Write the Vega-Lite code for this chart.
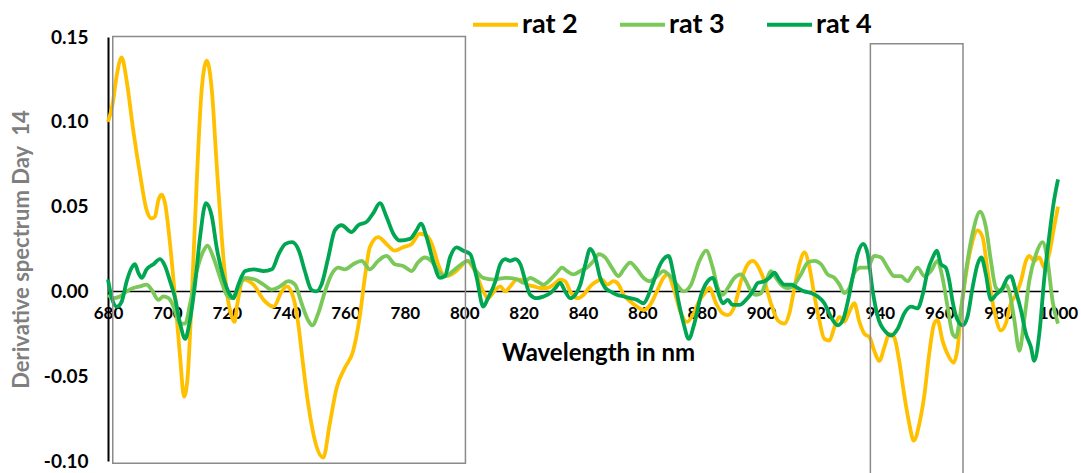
{
  "$schema": "https://vega.github.io/schema/vega-lite/v6.json",
  "width": 950,
  "height": 424,
  "autosize": {"type": "none"},
  "padding": {"left": 108, "top": 37, "right": 23, "bottom": 12},
  "background": "#ffffff",
  "config": {
    "view": {"stroke": null},
    "font": "Lato"
  },
  "datasets": {
    "boxes": [
      {"nm": 681.6, "nm2": 800.4, "v": 0.1503, "v2": -0.1013},
      {"nm": 936.8, "nm2": 968.0, "v": 0.146, "v2": -0.115}
    ],
    "spectra": [
      {"s":"rat 2","nm":680,"v":0.100},{"s":"rat 2","nm":681.5,"v":0.110},{"s":"rat 2","nm":683,"v":0.128},{"s":"rat 2","nm":684.6,"v":0.138},{"s":"rat 2","nm":686.3,"v":0.124},{"s":"rat 2","nm":688.5,"v":0.095},{"s":"rat 2","nm":690.8,"v":0.069},{"s":"rat 2","nm":693,"v":0.048},{"s":"rat 2","nm":694.7,"v":0.043},{"s":"rat 2","nm":695.8,"v":0.044},{"s":"rat 2","nm":697,"v":0.054},{"s":"rat 2","nm":698.1,"v":0.057},{"s":"rat 2","nm":699.2,"v":0.052},{"s":"rat 2","nm":700.9,"v":0.028},{"s":"rat 2","nm":702.6,"v":-0.004},{"s":"rat 2","nm":704.3,"v":-0.039},{"s":"rat 2","nm":705.6,"v":-0.062},{"s":"rat 2","nm":706.7,"v":-0.053},{"s":"rat 2","nm":708.2,"v":-0.004},{"s":"rat 2","nm":709.9,"v":0.065},{"s":"rat 2","nm":711.6,"v":0.120},{"s":"rat 2","nm":713.3,"v":0.136},{"s":"rat 2","nm":715,"v":0.118},{"s":"rat 2","nm":716.6,"v":0.075},{"s":"rat 2","nm":718.3,"v":0.032},{"s":"rat 2","nm":720,"v":0.000},{"s":"rat 2","nm":721.7,"v":-0.015},{"s":"rat 2","nm":722.6,"v":-0.018},{"s":"rat 2","nm":723.6,"v":-0.007},{"s":"rat 2","nm":725.6,"v":0.007},{"s":"rat 2","nm":729,"v":0.004},{"s":"rat 2","nm":732.4,"v":-0.005},{"s":"rat 2","nm":735.8,"v":-0.009},{"s":"rat 2","nm":738.5,"v":0.000},{"s":"rat 2","nm":740.2,"v":0.003},{"s":"rat 2","nm":742.5,"v":-0.004},{"s":"rat 2","nm":744,"v":-0.018},{"s":"rat 2","nm":745.5,"v":-0.040},{"s":"rat 2","nm":747.4,"v":-0.066},{"s":"rat 2","nm":749.7,"v":-0.088},{"s":"rat 2","nm":752.5,"v":-0.098},{"s":"rat 2","nm":754.7,"v":-0.078},{"s":"rat 2","nm":757,"v":-0.057},{"s":"rat 2","nm":759.8,"v":-0.045},{"s":"rat 2","nm":762.6,"v":-0.035},{"s":"rat 2","nm":764.8,"v":-0.015},{"s":"rat 2","nm":766.5,"v":0.008},{"s":"rat 2","nm":768.2,"v":0.026},{"s":"rat 2","nm":771,"v":0.032},{"s":"rat 2","nm":773.8,"v":0.028},{"s":"rat 2","nm":776.6,"v":0.024},{"s":"rat 2","nm":779.4,"v":0.026},{"s":"rat 2","nm":782.3,"v":0.028},{"s":"rat 2","nm":785,"v":0.034},{"s":"rat 2","nm":787.3,"v":0.033},{"s":"rat 2","nm":789.5,"v":0.026},{"s":"rat 2","nm":791.2,"v":0.016},{"s":"rat 2","nm":793.5,"v":0.009},{"s":"rat 2","nm":795.7,"v":0.010},{"s":"rat 2","nm":798.5,"v":0.014},{"s":"rat 2","nm":800.8,"v":0.018},{"s":"rat 2","nm":803.6,"v":0.012},{"s":"rat 2","nm":806.4,"v":0.000},{"s":"rat 2","nm":808,"v":-0.004},{"s":"rat 2","nm":810.5,"v":0.001},{"s":"rat 2","nm":812.1,"v":0.003},{"s":"rat 2","nm":813.8,"v":0.000},{"s":"rat 2","nm":815.5,"v":0.003},{"s":"rat 2","nm":817.8,"v":0.007},{"s":"rat 2","nm":819.4,"v":0.007},{"s":"rat 2","nm":821.1,"v":0.004},{"s":"rat 2","nm":823.4,"v":0.003},{"s":"rat 2","nm":825.6,"v":0.002},{"s":"rat 2","nm":827.9,"v":0.002},{"s":"rat 2","nm":830.1,"v":0.004},{"s":"rat 2","nm":832.3,"v":0.007},{"s":"rat 2","nm":834,"v":0.006},{"s":"rat 2","nm":835.7,"v":0.000},{"s":"rat 2","nm":838,"v":-0.004},{"s":"rat 2","nm":840.2,"v":-0.002},{"s":"rat 2","nm":842.4,"v":0.003},{"s":"rat 2","nm":844.7,"v":0.006},{"s":"rat 2","nm":846.4,"v":0.007},{"s":"rat 2","nm":848.1,"v":0.004},{"s":"rat 2","nm":850.3,"v":0.006},{"s":"rat 2","nm":852,"v":0.004},{"s":"rat 2","nm":853.7,"v":-0.002},{"s":"rat 2","nm":856,"v":-0.006},{"s":"rat 2","nm":858.2,"v":-0.009},{"s":"rat 2","nm":860.4,"v":-0.011},{"s":"rat 2","nm":862.6,"v":-0.008},{"s":"rat 2","nm":864.9,"v":0.000},{"s":"rat 2","nm":867.1,"v":0.008},{"s":"rat 2","nm":868.5,"v":0.010},{"s":"rat 2","nm":870.5,"v":0.002},{"s":"rat 2","nm":872.8,"v":-0.012},{"s":"rat 2","nm":875,"v":-0.018},{"s":"rat 2","nm":877,"v":-0.014},{"s":"rat 2","nm":879,"v":-0.006},{"s":"rat 2","nm":881,"v":-0.001},{"s":"rat 2","nm":882.6,"v":0.002},{"s":"rat 2","nm":884.8,"v":-0.007},{"s":"rat 2","nm":887.1,"v":-0.013},{"s":"rat 2","nm":888.8,"v":-0.014},{"s":"rat 2","nm":891,"v":-0.009},{"s":"rat 2","nm":893.2,"v":0.006},{"s":"rat 2","nm":895.5,"v":0.016},{"s":"rat 2","nm":897.2,"v":0.018},{"s":"rat 2","nm":898.9,"v":0.015},{"s":"rat 2","nm":901.1,"v":0.006},{"s":"rat 2","nm":903.3,"v":-0.007},{"s":"rat 2","nm":905.6,"v":-0.017},{"s":"rat 2","nm":907.8,"v":-0.019},{"s":"rat 2","nm":909.5,"v":-0.013},{"s":"rat 2","nm":911.2,"v":0.002},{"s":"rat 2","nm":912.9,"v":0.016},{"s":"rat 2","nm":914.6,"v":0.023},{"s":"rat 2","nm":916.3,"v":0.014},{"s":"rat 2","nm":917.9,"v":-0.002},{"s":"rat 2","nm":919.6,"v":-0.017},{"s":"rat 2","nm":921.3,"v":-0.028},{"s":"rat 2","nm":923,"v":-0.029},{"s":"rat 2","nm":924.7,"v":-0.021},{"s":"rat 2","nm":926.4,"v":-0.015},{"s":"rat 2","nm":928,"v":-0.018},{"s":"rat 2","nm":929.7,"v":-0.012},{"s":"rat 2","nm":931.4,"v":-0.007},{"s":"rat 2","nm":933.1,"v":-0.018},{"s":"rat 2","nm":934.8,"v":-0.025},{"s":"rat 2","nm":936.5,"v":-0.027},{"s":"rat 2","nm":938.1,"v":-0.035},{"s":"rat 2","nm":939.8,"v":-0.041},{"s":"rat 2","nm":941.5,"v":-0.033},{"s":"rat 2","nm":943.2,"v":-0.025},{"s":"rat 2","nm":944.8,"v":-0.027},{"s":"rat 2","nm":946.5,"v":-0.041},{"s":"rat 2","nm":948.2,"v":-0.061},{"s":"rat 2","nm":949.9,"v":-0.078},{"s":"rat 2","nm":951.4,"v":-0.088},{"s":"rat 2","nm":953.3,"v":-0.078},{"s":"rat 2","nm":955,"v":-0.061},{"s":"rat 2","nm":956.6,"v":-0.037},{"s":"rat 2","nm":958.3,"v":-0.019},{"s":"rat 2","nm":959.4,"v":-0.017},{"s":"rat 2","nm":961.1,"v":-0.029},{"s":"rat 2","nm":962.8,"v":-0.037},{"s":"rat 2","nm":964.8,"v":-0.042},{"s":"rat 2","nm":966.2,"v":-0.033},{"s":"rat 2","nm":967.5,"v":-0.009},{"s":"rat 2","nm":969,"v":0.010},{"s":"rat 2","nm":970.7,"v":0.026},{"s":"rat 2","nm":972.9,"v":0.036},{"s":"rat 2","nm":974.6,"v":0.032},{"s":"rat 2","nm":976.3,"v":0.012},{"s":"rat 2","nm":978.5,"v":-0.011},{"s":"rat 2","nm":980.8,"v":-0.023},{"s":"rat 2","nm":982.4,"v":-0.019},{"s":"rat 2","nm":984.1,"v":-0.007},{"s":"rat 2","nm":985.8,"v":-0.002},{"s":"rat 2","nm":987.5,"v":0.006},{"s":"rat 2","nm":989.2,"v":0.018},{"s":"rat 2","nm":990.3,"v":0.021},{"s":"rat 2","nm":992,"v":0.018},{"s":"rat 2","nm":993.7,"v":0.020},{"s":"rat 2","nm":995.4,"v":0.014},{"s":"rat 2","nm":997,"v":0.022},{"s":"rat 2","nm":998.7,"v":0.038},{"s":"rat 2","nm":1000,"v":0.050},

      {"s":"rat 3","nm":680,"v":-0.002},{"s":"rat 3","nm":681.8,"v":-0.004},{"s":"rat 3","nm":684,"v":-0.003},{"s":"rat 3","nm":686.3,"v":0.000},{"s":"rat 3","nm":688.5,"v":0.002},{"s":"rat 3","nm":690.8,"v":0.003},{"s":"rat 3","nm":693,"v":0.004},{"s":"rat 3","nm":694.7,"v":0.001},{"s":"rat 3","nm":697,"v":-0.005},{"s":"rat 3","nm":698.6,"v":-0.003},{"s":"rat 3","nm":700.4,"v":-0.004},{"s":"rat 3","nm":702.1,"v":-0.009},{"s":"rat 3","nm":704.3,"v":-0.019},{"s":"rat 3","nm":706,"v":-0.019},{"s":"rat 3","nm":707.7,"v":-0.007},{"s":"rat 3","nm":709.9,"v":0.012},{"s":"rat 3","nm":712.2,"v":0.024},{"s":"rat 3","nm":713.5,"v":0.027},{"s":"rat 3","nm":715.5,"v":0.020},{"s":"rat 3","nm":717.8,"v":0.008},{"s":"rat 3","nm":720,"v":-0.002},{"s":"rat 3","nm":721.7,"v":-0.004},{"s":"rat 3","nm":723.9,"v":0.002},{"s":"rat 3","nm":726.2,"v":0.008},{"s":"rat 3","nm":729.5,"v":0.007},{"s":"rat 3","nm":732.4,"v":0.004},{"s":"rat 3","nm":735.2,"v":0.001},{"s":"rat 3","nm":738,"v":0.003},{"s":"rat 3","nm":740.8,"v":0.006},{"s":"rat 3","nm":743,"v":0.004},{"s":"rat 3","nm":745.2,"v":-0.007},{"s":"rat 3","nm":747.4,"v":-0.017},{"s":"rat 3","nm":748.8,"v":-0.020},{"s":"rat 3","nm":750.8,"v":-0.013},{"s":"rat 3","nm":753.1,"v":0.000},{"s":"rat 3","nm":755.3,"v":0.010},{"s":"rat 3","nm":757.6,"v":0.014},{"s":"rat 3","nm":759.8,"v":0.013},{"s":"rat 3","nm":762.6,"v":0.016},{"s":"rat 3","nm":765.4,"v":0.018},{"s":"rat 3","nm":768.2,"v":0.013},{"s":"rat 3","nm":771,"v":0.018},{"s":"rat 3","nm":773.8,"v":0.021},{"s":"rat 3","nm":776.6,"v":0.016},{"s":"rat 3","nm":779.4,"v":0.015},{"s":"rat 3","nm":782.3,"v":0.012},{"s":"rat 3","nm":784.4,"v":0.017},{"s":"rat 3","nm":786.7,"v":0.020},{"s":"rat 3","nm":788.9,"v":0.018},{"s":"rat 3","nm":791.2,"v":0.012},{"s":"rat 3","nm":793.5,"v":0.009},{"s":"rat 3","nm":796.2,"v":0.012},{"s":"rat 3","nm":799,"v":0.016},{"s":"rat 3","nm":801.3,"v":0.018},{"s":"rat 3","nm":804,"v":0.012},{"s":"rat 3","nm":806.4,"v":0.008},{"s":"rat 3","nm":810,"v":0.007},{"s":"rat 3","nm":814,"v":0.008},{"s":"rat 3","nm":818,"v":0.007},{"s":"rat 3","nm":820,"v":0.005},{"s":"rat 3","nm":822.2,"v":0.008},{"s":"rat 3","nm":824.5,"v":0.006},{"s":"rat 3","nm":826.7,"v":0.004},{"s":"rat 3","nm":829,"v":0.007},{"s":"rat 3","nm":831.2,"v":0.011},{"s":"rat 3","nm":832.9,"v":0.014},{"s":"rat 3","nm":834.6,"v":0.012},{"s":"rat 3","nm":836.8,"v":0.010},{"s":"rat 3","nm":839.1,"v":0.012},{"s":"rat 3","nm":841.3,"v":0.014},{"s":"rat 3","nm":843.6,"v":0.018},{"s":"rat 3","nm":845.3,"v":0.022},{"s":"rat 3","nm":847.5,"v":0.020},{"s":"rat 3","nm":849.7,"v":0.014},{"s":"rat 3","nm":852,"v":0.009},{"s":"rat 3","nm":853.7,"v":0.013},{"s":"rat 3","nm":855.9,"v":0.017},{"s":"rat 3","nm":858.2,"v":0.013},{"s":"rat 3","nm":860.4,"v":0.008},{"s":"rat 3","nm":862.6,"v":0.006},{"s":"rat 3","nm":864.9,"v":0.009},{"s":"rat 3","nm":867.1,"v":0.012},{"s":"rat 3","nm":869.4,"v":0.009},{"s":"rat 3","nm":871.6,"v":0.004},{"s":"rat 3","nm":873.9,"v":0.000},{"s":"rat 3","nm":876.4,"v":0.004},{"s":"rat 3","nm":879.2,"v":0.018},{"s":"rat 3","nm":881.5,"v":0.024},{"s":"rat 3","nm":883.7,"v":0.014},{"s":"rat 3","nm":885.4,"v":0.002},{"s":"rat 3","nm":887.1,"v":-0.002},{"s":"rat 3","nm":888.8,"v":0.002},{"s":"rat 3","nm":891,"v":0.008},{"s":"rat 3","nm":893.2,"v":0.010},{"s":"rat 3","nm":894.9,"v":0.006},{"s":"rat 3","nm":896.6,"v":0.000},{"s":"rat 3","nm":898.3,"v":-0.002},{"s":"rat 3","nm":900,"v":-0.001},{"s":"rat 3","nm":901.7,"v":0.006},{"s":"rat 3","nm":903.3,"v":0.012},{"s":"rat 3","nm":905,"v":0.008},{"s":"rat 3","nm":906.7,"v":0.004},{"s":"rat 3","nm":909,"v":0.002},{"s":"rat 3","nm":911.2,"v":0.004},{"s":"rat 3","nm":913.4,"v":0.010},{"s":"rat 3","nm":915.7,"v":0.017},{"s":"rat 3","nm":917.9,"v":0.018},{"s":"rat 3","nm":920.2,"v":0.016},{"s":"rat 3","nm":922.4,"v":0.010},{"s":"rat 3","nm":924.7,"v":0.008},{"s":"rat 3","nm":926.4,"v":0.004},{"s":"rat 3","nm":928,"v":-0.001},{"s":"rat 3","nm":929.7,"v":0.002},{"s":"rat 3","nm":931.4,"v":0.011},{"s":"rat 3","nm":933.6,"v":0.014},{"s":"rat 3","nm":935.9,"v":0.014},{"s":"rat 3","nm":938.1,"v":0.021},{"s":"rat 3","nm":940.4,"v":0.020},{"s":"rat 3","nm":942.6,"v":0.014},{"s":"rat 3","nm":944.8,"v":0.009},{"s":"rat 3","nm":947.1,"v":0.009},{"s":"rat 3","nm":949.3,"v":0.006},{"s":"rat 3","nm":951,"v":0.010},{"s":"rat 3","nm":952.7,"v":0.014},{"s":"rat 3","nm":955,"v":0.009},{"s":"rat 3","nm":957.2,"v":0.012},{"s":"rat 3","nm":959.4,"v":0.018},{"s":"rat 3","nm":961.1,"v":0.008},{"s":"rat 3","nm":962.8,"v":-0.009},{"s":"rat 3","nm":964.5,"v":-0.025},{"s":"rat 3","nm":965.6,"v":-0.027},{"s":"rat 3","nm":967.3,"v":-0.011},{"s":"rat 3","nm":969,"v":0.012},{"s":"rat 3","nm":971.2,"v":0.034},{"s":"rat 3","nm":973.8,"v":0.047},{"s":"rat 3","nm":975.7,"v":0.038},{"s":"rat 3","nm":977.4,"v":0.018},{"s":"rat 3","nm":979.1,"v":0.002},{"s":"rat 3","nm":980.8,"v":0.000},{"s":"rat 3","nm":982.4,"v":0.004},{"s":"rat 3","nm":983.6,"v":0.000},{"s":"rat 3","nm":985.3,"v":-0.017},{"s":"rat 3","nm":987,"v":-0.035},{"s":"rat 3","nm":988.6,"v":-0.017},{"s":"rat 3","nm":990.3,"v":0.006},{"s":"rat 3","nm":992.6,"v":0.022},{"s":"rat 3","nm":994.8,"v":0.029},{"s":"rat 3","nm":996.5,"v":0.018},{"s":"rat 3","nm":998.2,"v":-0.006},{"s":"rat 3","nm":1000,"v":-0.019},

      {"s":"rat 4","nm":680,"v":0.007},{"s":"rat 4","nm":681.3,"v":-0.004},{"s":"rat 4","nm":683,"v":-0.009},{"s":"rat 4","nm":684.6,"v":-0.006},{"s":"rat 4","nm":686.3,"v":0.006},{"s":"rat 4","nm":688,"v":0.014},{"s":"rat 4","nm":689.1,"v":0.016},{"s":"rat 4","nm":690.2,"v":0.011},{"s":"rat 4","nm":691.4,"v":0.008},{"s":"rat 4","nm":693,"v":0.013},{"s":"rat 4","nm":695.3,"v":0.016},{"s":"rat 4","nm":697.5,"v":0.019},{"s":"rat 4","nm":699.2,"v":0.015},{"s":"rat 4","nm":700.9,"v":0.006},{"s":"rat 4","nm":702.6,"v":-0.004},{"s":"rat 4","nm":704.3,"v":-0.019},{"s":"rat 4","nm":706,"v":-0.028},{"s":"rat 4","nm":707.4,"v":-0.019},{"s":"rat 4","nm":709.3,"v":0.004},{"s":"rat 4","nm":711,"v":0.032},{"s":"rat 4","nm":713,"v":0.052},{"s":"rat 4","nm":715,"v":0.044},{"s":"rat 4","nm":716.6,"v":0.026},{"s":"rat 4","nm":718.9,"v":0.008},{"s":"rat 4","nm":721.1,"v":-0.002},{"s":"rat 4","nm":722.2,"v":-0.004},{"s":"rat 4","nm":723.9,"v":0.004},{"s":"rat 4","nm":726.2,"v":0.012},{"s":"rat 4","nm":729,"v":0.013},{"s":"rat 4","nm":732.4,"v":0.012},{"s":"rat 4","nm":735.2,"v":0.013},{"s":"rat 4","nm":737.5,"v":0.022},{"s":"rat 4","nm":739.8,"v":0.028},{"s":"rat 4","nm":742,"v":0.029},{"s":"rat 4","nm":744.3,"v":0.024},{"s":"rat 4","nm":746.3,"v":0.012},{"s":"rat 4","nm":748.5,"v":0.001},{"s":"rat 4","nm":750.2,"v":0.000},{"s":"rat 4","nm":751.9,"v":0.004},{"s":"rat 4","nm":754.2,"v":0.020},{"s":"rat 4","nm":756.4,"v":0.036},{"s":"rat 4","nm":758.7,"v":0.039},{"s":"rat 4","nm":762,"v":0.035},{"s":"rat 4","nm":764.3,"v":0.039},{"s":"rat 4","nm":767.1,"v":0.041},{"s":"rat 4","nm":769.3,"v":0.046},{"s":"rat 4","nm":771.6,"v":0.052},{"s":"rat 4","nm":773.8,"v":0.044},{"s":"rat 4","nm":776.1,"v":0.034},{"s":"rat 4","nm":778.3,"v":0.030},{"s":"rat 4","nm":781.7,"v":0.031},{"s":"rat 4","nm":783.9,"v":0.036},{"s":"rat 4","nm":785.4,"v":0.040},{"s":"rat 4","nm":787.3,"v":0.032},{"s":"rat 4","nm":789.5,"v":0.018},{"s":"rat 4","nm":791.8,"v":0.008},{"s":"rat 4","nm":793.5,"v":0.009},{"s":"rat 4","nm":795.2,"v":0.020},{"s":"rat 4","nm":797.4,"v":0.026},{"s":"rat 4","nm":799.7,"v":0.024},{"s":"rat 4","nm":802,"v":0.022},{"s":"rat 4","nm":804.2,"v":0.008},{"s":"rat 4","nm":806.4,"v":-0.009},{"s":"rat 4","nm":808,"v":-0.004},{"s":"rat 4","nm":810.5,"v":0.006},{"s":"rat 4","nm":812.1,"v":0.016},{"s":"rat 4","nm":813.8,"v":0.019},{"s":"rat 4","nm":815.5,"v":0.018},{"s":"rat 4","nm":817.2,"v":0.019},{"s":"rat 4","nm":818.9,"v":0.016},{"s":"rat 4","nm":820.6,"v":0.006},{"s":"rat 4","nm":822.2,"v":-0.002},{"s":"rat 4","nm":824.5,"v":-0.004},{"s":"rat 4","nm":826.7,"v":-0.003},{"s":"rat 4","nm":829,"v":-0.001},{"s":"rat 4","nm":830.7,"v":0.002},{"s":"rat 4","nm":832.3,"v":0.005},{"s":"rat 4","nm":834,"v":0.000},{"s":"rat 4","nm":835.7,"v":-0.004},{"s":"rat 4","nm":837.4,"v":-0.002},{"s":"rat 4","nm":839.1,"v":0.004},{"s":"rat 4","nm":840.8,"v":0.016},{"s":"rat 4","nm":842.4,"v":0.025},{"s":"rat 4","nm":844.1,"v":0.020},{"s":"rat 4","nm":845.8,"v":0.008},{"s":"rat 4","nm":847.5,"v":0.002},{"s":"rat 4","nm":849.2,"v":0.000},{"s":"rat 4","nm":851.4,"v":-0.002},{"s":"rat 4","nm":853.7,"v":-0.003},{"s":"rat 4","nm":855.9,"v":-0.004},{"s":"rat 4","nm":858.2,"v":-0.005},{"s":"rat 4","nm":860.4,"v":-0.007},{"s":"rat 4","nm":862.1,"v":-0.002},{"s":"rat 4","nm":863.8,"v":0.006},{"s":"rat 4","nm":865.5,"v":0.014},{"s":"rat 4","nm":867.1,"v":0.019},{"s":"rat 4","nm":868.8,"v":0.021},{"s":"rat 4","nm":870.5,"v":0.010},{"s":"rat 4","nm":872.2,"v":-0.006},{"s":"rat 4","nm":873.9,"v":-0.019},{"s":"rat 4","nm":875.6,"v":-0.028},{"s":"rat 4","nm":877.5,"v":-0.019},{"s":"rat 4","nm":879.8,"v":-0.002},{"s":"rat 4","nm":882,"v":0.006},{"s":"rat 4","nm":883.7,"v":0.008},{"s":"rat 4","nm":885.4,"v":0.000},{"s":"rat 4","nm":887.1,"v":-0.007},{"s":"rat 4","nm":888.8,"v":-0.005},{"s":"rat 4","nm":890.4,"v":-0.008},{"s":"rat 4","nm":892.7,"v":-0.008},{"s":"rat 4","nm":894.9,"v":-0.005},{"s":"rat 4","nm":897.2,"v":0.000},{"s":"rat 4","nm":898.9,"v":0.005},{"s":"rat 4","nm":901.1,"v":0.006},{"s":"rat 4","nm":902.8,"v":0.008},{"s":"rat 4","nm":904.5,"v":0.011},{"s":"rat 4","nm":906.1,"v":0.007},{"s":"rat 4","nm":907.8,"v":0.004},{"s":"rat 4","nm":910.1,"v":0.004},{"s":"rat 4","nm":912.3,"v":0.002},{"s":"rat 4","nm":914.6,"v":0.000},{"s":"rat 4","nm":916.8,"v":-0.001},{"s":"rat 4","nm":919.1,"v":-0.003},{"s":"rat 4","nm":921.3,"v":-0.007},{"s":"rat 4","nm":923.5,"v":-0.015},{"s":"rat 4","nm":925.8,"v":-0.020},{"s":"rat 4","nm":927.5,"v":-0.017},{"s":"rat 4","nm":929.2,"v":-0.006},{"s":"rat 4","nm":930.8,"v":0.008},{"s":"rat 4","nm":932.5,"v":0.022},{"s":"rat 4","nm":934.4,"v":0.028},{"s":"rat 4","nm":935.9,"v":0.022},{"s":"rat 4","nm":937.6,"v":0.000},{"s":"rat 4","nm":939.3,"v":-0.015},{"s":"rat 4","nm":942,"v":-0.024},{"s":"rat 4","nm":943.7,"v":-0.026},{"s":"rat 4","nm":946,"v":-0.022},{"s":"rat 4","nm":948.2,"v":-0.013},{"s":"rat 4","nm":950.5,"v":-0.009},{"s":"rat 4","nm":952.7,"v":-0.010},{"s":"rat 4","nm":954.4,"v":-0.002},{"s":"rat 4","nm":956.1,"v":0.012},{"s":"rat 4","nm":957.8,"v":0.020},{"s":"rat 4","nm":959.2,"v":0.024},{"s":"rat 4","nm":960.6,"v":0.016},{"s":"rat 4","nm":962.2,"v":0.014},{"s":"rat 4","nm":963.4,"v":0.006},{"s":"rat 4","nm":964.5,"v":-0.006},{"s":"rat 4","nm":966.2,"v":-0.017},{"s":"rat 4","nm":967.9,"v":-0.020},{"s":"rat 4","nm":969.5,"v":-0.015},{"s":"rat 4","nm":971.2,"v":0.002},{"s":"rat 4","nm":972.9,"v":0.016},{"s":"rat 4","nm":974.2,"v":0.020},{"s":"rat 4","nm":975.7,"v":0.010},{"s":"rat 4","nm":977.4,"v":-0.005},{"s":"rat 4","nm":979.1,"v":-0.002},{"s":"rat 4","nm":981.3,"v":0.002},{"s":"rat 4","nm":983,"v":0.008},{"s":"rat 4","nm":984.1,"v":0.009},{"s":"rat 4","nm":985.8,"v":0.000},{"s":"rat 4","nm":987.5,"v":-0.011},{"s":"rat 4","nm":989.2,"v":-0.025},{"s":"rat 4","nm":990.9,"v":-0.033},{"s":"rat 4","nm":992,"v":-0.041},{"s":"rat 4","nm":993.7,"v":-0.025},{"s":"rat 4","nm":995.4,"v":0.008},{"s":"rat 4","nm":997,"v":0.032},{"s":"rat 4","nm":998.7,"v":0.054},{"s":"rat 4","nm":1000,"v":0.066}
    ]
  },
  "encoding": {
    "x": {
      "field": "nm", "type": "quantitative",
      "scale": {"domain": [680, 1000], "nice": false, "zero": false},
      "axis": {
        "title": "Wavelength in nm",
        "values": [680, 700, 720, 740, 760, 780, 800, 820, 840, 860, 880, 900, 920, 940, 960, 980, 1000],
        "format": "d",
        "grid": false, "ticks": false, "offset": -170,
        "domainColor": "#000000", "domainWidth": 1.5,
        "labelFont": "Lato", "labelFontWeight": "bold", "labelFontSize": 17, "labelColor": "#000000",
        "labelPadding": 14, "labelFlush": false, "labelOverlap": false,
        "titleFont": "Lato", "titleFontSize": 24, "titleFontWeight": "bold", "titleColor": "#000000",
        "titlePadding": 20, "titleX": 490
      }
    },
    "y": {
      "field": "v", "type": "quantitative",
      "scale": {"domain": [-0.1, 0.15], "nice": false, "zero": false},
      "axis": {
        "title": "Derivative spectrum Day\u00a0 14",
        "values": [-0.1, -0.05, 0, 0.05, 0.1, 0.15],
        "labelExpr": "replace(format(datum.value, '.2f'), '\u2212', '-')",
        "grid": false, "ticks": false,
        "domainColor": "#000000", "domainWidth": 2,
        "labelFont": "Lato", "labelFontWeight": "bold", "labelFontSize": 19, "labelColor": "#000000",
        "labelPadding": 20, "labelFlush": false, "labelOverlap": false,
        "titleFont": "Lato", "titleFontSize": 22, "titleFontWeight": "bold", "titleColor": "#7f7f7f",
        "titlePadding": 10
      }
    }
  },
  "layer": [
    {
      "data": {"name": "spectra"},
      "mark": {"type": "line", "strokeWidth": 3.8, "interpolate": "monotone"},
      "encoding": {
        "color": {
          "field": "s", "type": "nominal",
          "scale": {"domain": ["rat 2", "rat 3", "rat 4"], "range": ["#FFC000", "#7AC858", "#00A651"]},
          "legend": {
            "title": null, "orient": "none", "legendX": 363, "legendY": -37, "direction": "horizontal",
            "padding": 0, "symbolType": "stroke", "symbolSize": 2025, "symbolStrokeWidth": 3.8,
            "labelFont": "Lato", "labelFontSize": 27, "labelFontWeight": "bold", "labelColor": "#000000",
            "labelOffset": 2, "columnPadding": 34
          }
        }
      }
    },
    {
      "data": {"name": "boxes"},
      "mark": {"type": "rect", "fill": null, "stroke": "#8a8a8a", "strokeWidth": 1.5},
      "encoding": {
        "x2": {"field": "nm2"},
        "y2": {"field": "v2"}
      }
    }
  ]
}
